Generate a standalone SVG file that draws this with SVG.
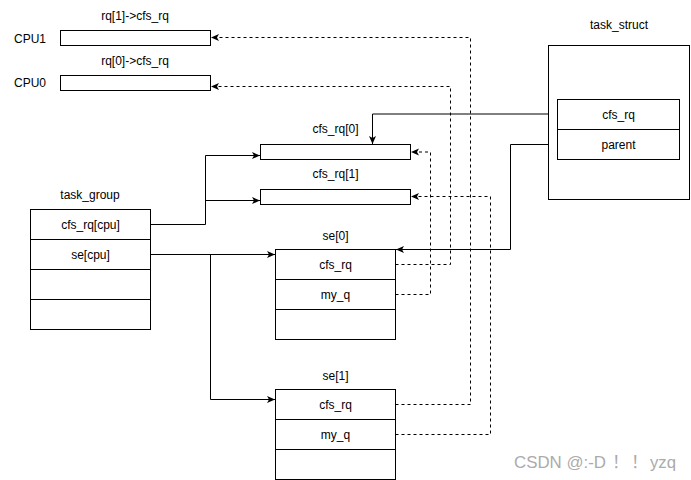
<svg xmlns="http://www.w3.org/2000/svg" width="691" height="480" viewBox="0 0 691 480">
<style>
.box{fill:#fff;stroke:#000;stroke-width:1}
.t{font-family:"Liberation Sans",Arial,sans-serif;font-size:12px;fill:#000}
.c{text-anchor:middle}
.e{fill:none;stroke:#000;stroke-width:1}
.d{stroke-dasharray:3 3}
.wm{font-family:"Liberation Sans","Noto Sans CJK SC",sans-serif;font-size:17px;fill:#ababab}
</style>
<defs>
<marker id="arr" viewBox="0 0 8 8" refX="8" refY="4" markerWidth="8" markerHeight="8" markerUnits="userSpaceOnUse" orient="auto">
<path d="M0,0.5 L8,4 L0,7.5 L2,4 Z" fill="#000"/>
</marker>
</defs>
<rect width="691" height="480" fill="#fff"/>

<g id="connectors">
<path class="e" d="M557.5,114 H372.5 V144" marker-end="url(#arr)"/>
<path class="e" d="M557.5,144.5 H510.5 V249.5 H396" marker-end="url(#arr)"/>
<path class="e" d="M150.5,224.5 H205.5 V155.5 H260" marker-end="url(#arr)"/>
<path class="e" d="M205.5,200.5 H260" marker-end="url(#arr)"/>
<path class="e" d="M150.5,254.5 H275" marker-end="url(#arr)"/>
<path class="e" d="M210.5,254.5 V399.5 H275" marker-end="url(#arr)"/>
<path class="e d" d="M395.5,264.5 H450.5 V86.5 H211" marker-end="url(#arr)"/>
<path class="e d" d="M395.5,294.5 H430.5 V152 H411" marker-end="url(#arr)"/>
<path class="e d" d="M395.5,404.5 H470.5 V37.5 H211" marker-end="url(#arr)"/>
<path class="e d" d="M395.5,434.5 H490.5 V196.5 H411" marker-end="url(#arr)"/>
</g>

<g id="cpu1">
<text class="t" x="14" y="42.5">CPU1</text>
<text class="t c" x="135" y="20">rq[1]-&gt;cfs_rq</text>
<rect class="box" x="60.5" y="30.5" width="150" height="15"/>
</g>

<g id="cpu0">
<text class="t" x="14" y="87">CPU0</text>
<text class="t c" x="135" y="64.5">rq[0]-&gt;cfs_rq</text>
<rect class="box" x="60.5" y="75.5" width="150" height="15"/>
</g>

<g id="cfs_rq0">
<text class="t c" x="335.5" y="132.5">cfs_rq[0]</text>
<rect class="box" x="260.5" y="144.5" width="150" height="15"/>
</g>

<g id="cfs_rq1">
<text class="t c" x="335.5" y="177.5">cfs_rq[1]</text>
<rect class="box" x="260.5" y="189.5" width="150" height="15"/>
</g>

<g id="task_group">
<text class="t c" x="90" y="199">task_group</text>
<rect class="box" x="30.5" y="209.5" width="120" height="120"/>
<path class="e" d="M30.5,239.5 H150.5 M30.5,269.5 H150.5 M30.5,299.5 H150.5"/>
<text class="t c" x="90.5" y="228.5">cfs_rq[cpu]</text>
<text class="t c" x="90.5" y="258.5">se[cpu]</text>
</g>

<g id="se0">
<text class="t c" x="335.5" y="240">se[0]</text>
<rect class="box" x="275.5" y="249.5" width="120" height="90"/>
<path class="e" d="M275.5,279.5 H395.5 M275.5,309.5 H395.5"/>
<text class="t c" x="335.5" y="268.5">cfs_rq</text>
<text class="t c" x="335.5" y="298.5">my_q</text>
</g>

<g id="se1">
<text class="t c" x="335.5" y="380">se[1]</text>
<rect class="box" x="275.5" y="389.5" width="120" height="90"/>
<path class="e" d="M275.5,419.5 H395.5 M275.5,449.5 H395.5"/>
<text class="t c" x="335.5" y="408.5">cfs_rq</text>
<text class="t c" x="335.5" y="438.5">my_q</text>
</g>

<g id="task_struct">
<text class="t c" x="619" y="29">task_struct</text>
<rect class="box" x="548.5" y="45.5" width="141" height="154"/>
<rect class="box" x="557.5" y="99.5" width="122" height="60"/>
<path class="e" d="M557.5,129.5 H679.5"/>
<text class="t c" x="618.5" y="118.5">cfs_rq</text>
<text class="t c" x="618.5" y="148.5">parent</text>
</g>

<text class="wm" x="514" y="468"><tspan textLength="92" lengthAdjust="spacingAndGlyphs">CSDN @:-D</tspan><tspan x="612">！</tspan> <tspan x="631">！</tspan><tspan x="650" textLength="26" lengthAdjust="spacingAndGlyphs">yzq</tspan></text>
</svg>
